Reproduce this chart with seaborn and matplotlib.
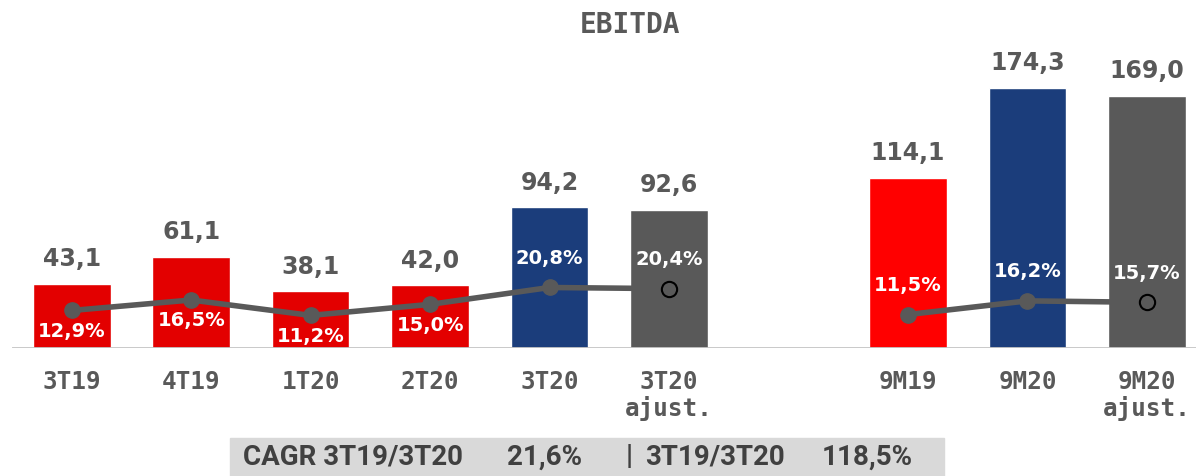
import matplotlib
matplotlib.use("Agg")
import matplotlib.pyplot as plt
import seaborn as sns
import pandas as pd
from matplotlib.patches import Rectangle

# data
periods = ["3T19", "4T19", "1T20", "2T20", "3T20", "3T20\najust.",
           "9M19", "9M20", "9M20\najust."]
ebitda = [43.1, 61.1, 38.1, 42.0, 94.2, 92.6, 114.1, 174.3, 169.0]
margin = [12.9, 16.5, 11.2, 15.0, 20.8, 20.4, 11.5, 16.2, 15.7]
value_labels = ["43,1", "61,1", "38,1", "42,0", "94,2", "92,6", "114,1", "174,3", "169,0"]
margin_labels = ["12,9%", "16,5%", "11,2%", "15,0%", "20,8%", "20,4%", "11,5%", "16,2%", "15,7%"]
quarter_group = periods[:6]
ytd_group = periods[6:]
adjusted = ["3T20\najust.", "9M20\najust."]
cagr_texts = ["CAGR 3T19/3T20", "21,6%", "|", "3T19/3T20", "118,5%"]

GREY = "#595959"
RED_Q = "#e30000"
RED = "#ff0000"
BLUE = "#1b3d7b"
palette = {"3T19": RED_Q, "4T19": RED_Q, "1T20": RED_Q, "2T20": RED_Q,
           "3T20": BLUE, "3T20\najust.": GREY,
           "9M19": RED, "9M20": BLUE, "9M20\najust.": GREY}

# blank slot between quarters and year-to-date
order = quarter_group + [" "] + ytd_group
xpos = {p: order.index(p) for p in periods}

df = pd.DataFrame({"period": periods, "ebitda": ebitda, "margin": margin})

sns.set_theme(style="white")
fig = plt.figure(figsize=(11.96, 4.76), dpi=100)
ax = fig.add_axes([12 / 1196, 128 / 476, 1184 / 1196, 288 / 476])

sns.barplot(data=df, x="period", y="ebitda", hue="period", order=order,
            palette=palette, width=0.65, saturation=1, legend=False, ax=ax)
ax.set_xlim(-0.5, (1196 - 72) / 119.44)
ax.set_ylim(0, 193)
ax.axhline(0, color="#c4c4c4", lw=2, zorder=3)
sns.despine(ax=ax, left=True, bottom=True)
ax.set_yticks([])
ax.set_xlabel("")
ax.set_ylabel("")
ax.tick_params(axis="x", length=0, pad=16)
ax.set_xticks(range(len(order)))
ax.set_xticklabels(order, fontsize=17.5, fontweight="bold", color=GREY,
                   family="DejaVu Sans Mono", linespacing=1.1)

for p, v, lab in zip(periods, ebitda, value_labels):
    ax.annotate(lab, (xpos[p], v), xytext=(0, 9), textcoords="offset points",
                ha="center", va="bottom", fontsize=17, fontweight="bold", color=GREY)

# margin line on its own scale
ax2 = ax.twinx()
ax2.set_ylim(0, 99)
ax2.set_yticks([])
for s in ax2.spines.values():
    s.set_visible(False)

for group in (quarter_group, ytd_group):
    xs = [xpos[p] for p in group]
    ys = [margin[periods.index(p)] for p in group]
    ax2.plot(xs, ys, color=GREY, lw=4, solid_capstyle="butt", zorder=4)
    full = [p for p in group if p not in adjusted]
    ax2.plot([xpos[p] for p in full], [margin[periods.index(p)] for p in full],
             ls="none", marker="o", ms=11, color=GREY, zorder=5)

for p in adjusted:
    ax2.plot(xpos[p], margin[periods.index(p)], ls="none", marker="o", ms=11,
             mfc=GREY, mec="black", mew=1.5, zorder=6)

for i, (p, m, lab) in enumerate(zip(periods, margin, margin_labels)):
    dy = -15 if i < 4 else 21
    ax2.annotate(lab, (xpos[p], m), xytext=(0, dy), textcoords="offset points",
                 ha="center", va="center", fontsize=14, fontweight="bold",
                 color="white", zorder=7)

fig.text(630 / 1196, 1 - 25 / 476, "EBITDA", ha="center", va="center",
         fontsize=20, fontweight="bold", color=GREY, family="DejaVu Sans Mono")

# CAGR strip at the bottom
fig.patches.append(Rectangle((230 / 1196, 0), 714 / 1196, 38 / 476,
                             transform=fig.transFigure, color="#d9d9d9", zorder=0))
for x, t in zip([243, 507, 626, 645, 822], cagr_texts):
    fig.text(x / 1196, 19 / 476, t, ha="left", va="center", fontsize=20,
             fontweight="bold", color="#404040", family="Roboto")

fig.savefig("out.png", dpi=100)
